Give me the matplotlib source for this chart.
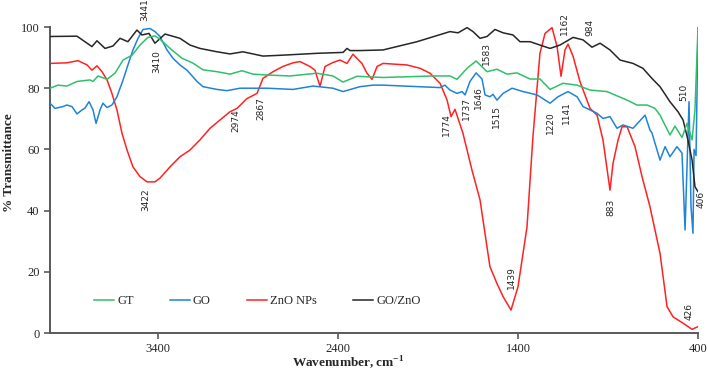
import matplotlib
matplotlib.use("Agg")
import matplotlib.pyplot as plt

# FTIR spectra

gt_wn = [4000, 3956, 3906, 3850, 3778, 3761, 3733, 3683, 3639, 3594, 3544, 3500, 3456, 3417, 3389,
         3333, 3267, 3206, 3150, 3072, 3000, 2933, 2872, 2794, 2667, 2517, 2428, 2372, 2294, 2150,
         1872, 1778, 1739, 1683, 1633, 1572, 1517, 1461, 1406, 1333, 1278, 1222, 1150, 1072, 1000,
         906, 794, 739, 683, 639, 611, 556, 528, 489, 461, 433, 417, 400]
gt_t = [80.0, 81.0, 80.7, 82.2, 82.7, 82.2, 84.0, 82.9, 84.9, 89.2, 90.8, 94.1, 96.6, 97.1, 96.0,
        93.0, 89.8, 88.2, 86.0, 85.4, 84.6, 85.7, 84.6, 84.3, 84.0, 84.9, 84.0, 82.0, 83.9, 83.5,
        84.0, 84.0, 82.9, 86.5, 88.9, 85.4, 86.2, 84.6, 85.0, 83.0, 83.0, 79.6, 81.6, 81.0, 79.4,
        78.9, 76.1, 74.5, 74.5, 73.4, 71.2, 64.7, 67.6, 63.9, 68.5, 63.1, 72.9, 100.0]

go_wn = [4000, 3972, 3928, 3906, 3878, 3850, 3822, 3806, 3783, 3761, 3744, 3722, 3706, 3683, 3656,
         3628, 3594, 3567, 3539, 3511, 3483, 3444, 3417, 3389, 3350, 3317, 3278, 3239, 3183, 3150,
         3072, 3017, 2944, 2794, 2650, 2539, 2428, 2372, 2278, 2206, 2150, 1833, 1806, 1778, 1739,
         1711, 1694, 1667, 1633, 1600, 1583, 1556, 1539, 1517, 1483, 1433, 1372, 1294, 1222, 1178,
         1122, 1072, 1039, 961, 928, 889, 850, 817, 761, 694, 667, 656, 611, 583, 556, 517, 489,
         472, 450, 439, 428, 422, 411, 400]
go_t = [75.1, 73.4, 74.0, 74.5, 74.0, 71.6, 72.9, 73.5, 75.6, 72.9, 68.5, 72.9, 75.1, 73.7, 74.5,
        77.2, 82.7, 87.6, 92.5, 96.3, 99.2, 99.5, 98.5, 96.9, 92.5, 89.8, 87.6, 85.9, 82.2, 80.5,
        79.6, 79.2, 80.0, 80.0, 79.6, 80.7, 80.0, 78.9, 80.5, 81.0, 81.0, 80.2, 81.0, 79.4, 78.3,
        78.9, 77.8, 82.2, 85.0, 83.0, 77.8, 77.2, 78.0, 76.1, 78.3, 80.0, 78.9, 77.8, 75.1, 77.2,
        78.9, 77.2, 74.0, 71.8, 70.1, 70.7, 66.9, 68.0, 66.9, 71.2, 66.3, 65.4, 56.5, 60.9, 57.6,
        60.9, 58.8, 33.7, 75.6, 41.3, 32.6, 60.0, 58.0, 100.0]

zno_wn = [4000, 3906, 3844, 3794, 3767, 3739, 3711, 3683, 3656, 3628, 3600, 3572, 3539, 3500, 3461,
          3417, 3389, 3333, 3278, 3222, 3167, 3111, 3056, 3000, 2961, 2906, 2850, 2817, 2761, 2706,
          2650, 2611, 2556, 2528, 2500, 2472, 2428, 2389, 2350, 2317, 2267, 2239, 2211, 2183, 2150,
          2017, 1944, 1889, 1833, 1794, 1772, 1750, 1706, 1656, 1611, 1556, 1517, 1483, 1439, 1400,
          1350, 1317, 1278, 1250, 1211, 1183, 1161, 1139, 1122, 1094, 1056, 1000, 961, 928, 889,
          872, 844, 822, 794, 750, 711, 667, 611, 572, 539, 483, 433, 400]
zno_t = [88.1, 88.3, 89.0, 87.6, 85.9, 87.3, 85.4, 82.7, 78.3, 72.9, 65.3, 59.8, 54.3, 51.1, 49.4,
         49.4, 50.6, 54.3, 57.6, 59.8, 63.1, 66.9, 69.6, 72.3, 73.4, 76.6, 78.3, 83.2, 85.4, 87.1,
         88.3, 88.7, 87.1, 85.9, 80.6, 87.1, 88.4, 89.2, 88.1, 91.1, 88.1, 84.9, 82.9, 87.1, 88.1,
         87.6, 86.5, 84.9, 81.6, 76.1, 70.7, 73.1, 65.3, 53.3, 43.5, 21.7, 16.2, 11.9, 7.5, 15.1,
         34.7, 64.2, 91.4, 97.9, 99.8, 93.6, 83.9, 92.5, 94.4, 90.4, 82.2, 73.4, 71.2, 63.1, 46.7,
         55.5, 63.1, 67.4, 67.4, 60.9, 51.1, 41.3, 26.0, 8.6, 5.3, 3.2, 1.2, 2.1]

goz_wn = [4000, 3850, 3767, 3739, 3694, 3650, 3611, 3567, 3517, 3489, 3450, 3417, 3361, 3278, 3222,
          3167, 3072, 3000, 2928, 2817, 2706, 2517, 2372, 2350, 2333, 2278, 2150, 1961, 1778, 1733,
          1683, 1650, 1611, 1572, 1528, 1483, 1428, 1389, 1333, 1278, 1222, 1167, 1094, 1039, 989,
          944, 889, 833, 761, 706, 656, 611, 556, 511, 483, 456, 433, 417, 400]
goz_t = [96.9, 97.0, 93.6, 95.5, 93.0, 93.8, 96.3, 95.2, 99.0, 97.4, 97.9, 94.7, 97.7, 96.3, 94.1,
         93.0, 91.9, 91.2, 91.9, 90.5, 90.8, 91.4, 91.7, 93.0, 92.3, 92.3, 92.5, 95.2, 98.5, 98.1,
         99.8, 98.5, 96.3, 96.9, 99.2, 98.1, 97.4, 95.2, 95.2, 94.1, 93.0, 94.1, 96.6, 95.8, 93.4,
         94.7, 92.5, 89.2, 88.1, 86.5, 83.2, 80.5, 75.6, 72.3, 69.6, 63.1, 56.5, 47.8, 46.2]

# peak labels: text, x (wavenumber), y (% T) of the label centre
peak_text = ["3441", "3410", "3422", "2974", "2867", "1774", "1737", "1646", "1583", "1515",
             "1220", "1141", "1162", "984", "510", "406", "883", "1439", "426"]
peak_x = [3472, 3406, 3467, 2967, 2828, 1800, 1689, 1617, 1578, 1517,
          1217, 1133, 1144, 1000, 478, 383, 883, 1439, 450]
peak_y = [105.6, 88.6, 43.5, 69.3, 73.5, 68.0, 73.5, 77.1, 91.5, 70.6,
          68.6, 72.2, 101.0, 100.0, 78.8, 43.8, 41.2, 18.0, 6.9]

plt.rcParams["mathtext.fontset"] = "custom"
plt.rcParams["mathtext.rm"] = "Liberation Serif"
plt.rcParams["mathtext.bf"] = "Liberation Serif:bold"

fig = plt.figure(figsize=(7.08, 3.74), dpi=100)
ax = fig.add_axes([0.0706, 0.1096, 0.9153, 0.8182])

ax.plot(gt_wn, gt_t, color="#2fc06a", lw=1.1, label="GT", zorder=5)
ax.plot(go_wn, go_t, color="#1f84d6", lw=1.1, label="GO", zorder=3)
ax.plot(zno_wn, zno_t, color="#ff2222", lw=1.1, label="ZnO NPs", zorder=2)
ax.plot(goz_wn, goz_t, color="#262626", lw=1.1, label="GO/ZnO", zorder=4)

for t, x, y in zip(peak_text, peak_x, peak_y):
    ax.text(x, y, t, rotation=90, ha="center", va="center", fontsize=6.5,
            color="#262626", family="DejaVu Sans", clip_on=False)

ax.set_xlim(4000, 400)
ax.set_ylim(0, 100)
ax.set_xticks([3400, 2400, 1400, 400])
ax.set_yticks([0, 20, 40, 60, 80, 100])

for s in ["top", "right"]:
    ax.spines[s].set_visible(False)
for s in ["left", "bottom"]:
    ax.spines[s].set_color("#595959")
    ax.spines[s].set_linewidth(1.4)
ax.tick_params(direction="out", length=4, width=1.2, color="#595959",
               labelsize=9, labelcolor="#262626")
for lab in ax.get_xticklabels() + ax.get_yticklabels():
    lab.set_family("Liberation Serif")

ax.set_xlabel(r"Wavenumber, cm$^{\mathbf{-1}}$", family="Liberation Serif", fontweight="bold",
              fontsize=9.5, color="#262626", va="center")
ax.xaxis.set_label_coords(0.46, -0.098)
ax.set_ylabel("% Transmittance", family="Liberation Serif", fontweight="bold",
              fontsize=9.5, color="#262626", va="center")
ax.yaxis.set_label_coords(-0.064, 0.556)

leg = ax.legend(loc="center", bbox_to_anchor=(0.32, 0.105), ncol=4, frameon=False,
                handlelength=1.6, handletextpad=0.25, columnspacing=2.9,
                prop={"family": "Liberation Serif", "size": 9})
for txt in leg.get_texts():
    txt.set_color("#262626")

fig.savefig("out.png", dpi=100)
